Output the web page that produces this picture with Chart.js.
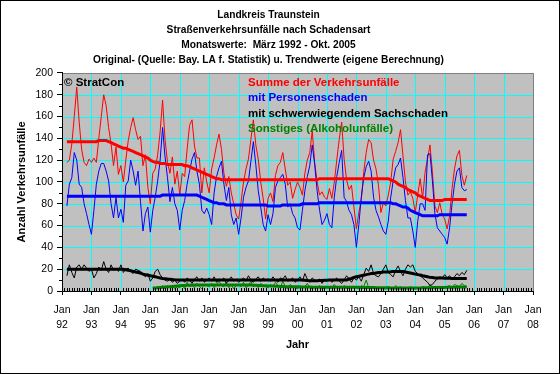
<!DOCTYPE html>
<html lang="de">
<head>
  <meta charset="UTF-8">
  <title>Landkreis Traunstein – Straßenverkehrsunfälle nach Schadensart</title>
  <script src="https://cdn.jsdelivr.net/npm/chart.js"></script>
  <style>
    html, body {
      margin: 0;
      padding: 0;
      background: #fff;
    }

    .chart-box {
      position: relative;
      width: 560px;
      height: 374px;
    }
  </style>
</head>
<body>

<div class="chart-box">
  <canvas id="unfallChart"></canvas>
</div>

<script>
// Monatswerte ab März 1992 (Monat 2 = März 1992, Monat 0 = Jan 1992)
const firstMonth = 2;
// Sonstiges erst ab Feb. 1995
const greenFirstMonth = 37;

const yearLabels = ['92', '93', '94', '95', '96', '97', '98', '99', '00',
                    '01', '02', '03', '04', '05', '06', '07', '08'];

// Summe der Verkehrsunfälle
const summe = [
  118, 120, 135, 160, 187, 155, 130, 118, 115, 121,            // 1992
  118, 122, 118, 140, 160, 180, 170, 150, 135, 115, 132, 107,  // 1993
  115, 100, 120, 138, 150, 159, 148, 139, 142, 115, 125, 95,   // 1994
  80, 108, 112, 125, 146, 175, 139, 118, 108, 123, 98, 110,    // 1995
  88, 108, 105, 130, 152, 157, 133, 122, 122, 90, 113, 100,    // 1996
  90, 112, 122, 134, 144, 130, 108, 96, 105, 90, 80, 70,       // 1997
  66, 82, 100, 112, 121, 139, 157, 134, 121, 100, 85, 66,      // 1998
  85, 90, 82, 106, 115, 118, 127, 112, 97, 100, 85, 93,        // 1999
  100, 95, 88, 108, 120, 127, 147, 118, 100, 88, 91, 86,       // 2000
  84, 94, 85, 100, 120, 139, 155, 121, 102, 93, 97, 77,        // 2001
  57, 72, 84, 109, 127, 139, 136, 120, 112, 97, 72, 81,        // 2002
  78, 88, 100, 121, 128, 136, 148, 124, 100, 88, 91, 85,       // 2003
  72, 88, 103, 85, 109, 121, 134, 109, 78, 72, 81, 70,         // 2004
  66, 57, 69, 94, 112, 124, 129, 106, 97, 106                  // 2005
];

// mit Personenschaden
const personen = [
  78, 98, 104, 127, 120, 98, 95, 80, 71, 61,
  52, 74, 98, 110, 117, 117, 110, 101, 80, 67, 86, 67,
  75, 63, 97, 101, 120, 110, 97, 110, 82, 55, 71, 77,
  54, 74, 86, 101, 120, 150, 123, 104, 82, 95, 80, 74,
  56, 74, 83, 98, 110, 121, 127, 110, 98, 74, 71, 76,
  70, 61, 90, 105, 113, 119, 98, 83, 95, 70, 61, 67,
  52, 67, 86, 95, 101, 119, 137, 116, 92, 77, 61, 55,
  70, 61, 71, 95, 101, 104, 107, 98, 77, 80, 71, 67,
  58, 56, 74, 92, 105, 115, 134, 116, 92, 74, 61, 65,
  71, 61, 58, 86, 105, 118, 129, 86, 82, 74, 70, 61,
  40, 61, 86, 104, 114, 119, 110, 86, 74, 68, 61, 55,
  52, 64, 86, 101, 113, 116, 122, 104, 83, 67, 67, 55,
  40, 64, 80, 80, 74, 125, 126, 101, 71, 58, 55, 52,
  49, 43, 58, 80, 98, 110, 113, 95, 92, 93
];

// mit schwerwiegendem Sachschaden
const sachschaden = [
  14, 24, 17, 12, 22, 24, 20, 24, 21, 18,
  20, 12, 16, 22, 19, 27, 20, 17, 24, 19, 21, 18,
  24, 17, 20, 21, 18, 16, 20, 19, 18, 15, 13, 16,
  9, 12, 18, 20, 15, 12, 10, 9, 11, 8, 10, 7,
  9, 11, 8, 12, 10, 7, 11, 13, 9, 12, 8, 10,
  12, 9, 13, 8, 11, 10, 12, 7, 10, 13, 9, 11,
  8, 10, 12, 9, 14, 10, 8, 11, 13, 9, 12, 10,
  11, 9, 13, 10, 8, 12, 11, 14, 9, 10, 12, 8,
  10, 13, 9, 16, 11, 8, 12, 10, 9, 11, 7, 10,
  9, 11, 8, 10, 12, 9, 7, 10, 14, 11, 8, 12,
  10, 13, 9, 15, 21, 18, 24, 16, 14, 13, 16, 20,
  24, 17, 15, 13, 19, 23, 18, 14, 20, 24, 22, 24,
  18, 16, 14, 12, 10, 8, 5, 6, 9, 11, 13, 12,
  15, 12, 14, 11, 13, 16, 14, 17, 15, 19
];

// Sonstiges (Alkoholunfälle), ab Feb. 1995
const sonstiges = [
  3, 2, 4, 3, 5, 2, 4, 3, 5, 2, 4,
  3, 6, 2, 8, 4, 5, 3, 7, 4, 2, 6, 5,
  4, 7, 3, 6, 9, 5, 4, 8, 3, 6, 2, 5,
  6, 4, 8, 3, 5, 9, 4, 6, 3, 7, 5, 4,
  3, 6, 4, 8, 5, 3, 9, 4, 2, 6, 4, 3,
  2, 5, 3, 4, 7, 3, 2, 4, 3, 5, 2, 3,
  4, 2, 3, 6, 3, 4, 2, 5, 3, 2, 4, 3,
  3, 2, 5, 4, 10, 3, 2, 4, 3, 2, 3, 2,
  2, 4, 3, 2, 5, 3, 4, 2, 3, 2, 4, 3,
  2, 3, 2, 4, 3, 2, 6, 3, 2, 3, 2, 4,
  3, 4, 5, 3, 6, 5, 4, 7, 5, 4
];

// Trendwerte (eigene Berechnung)
const summeTrend = [
  137, 137, 137, 137, 137, 137, 137, 137, 137, 137,
  137, 137, 137, 138, 138, 138, 138, 137, 136, 135, 134, 133,
  132, 131, 131, 130, 129, 128, 127, 126, 125, 124, 123, 122,
  120, 119, 118, 118, 117, 117, 117, 116, 116, 116, 116, 116,
  116, 116, 115, 115, 114, 113, 112, 111, 110, 109, 108, 107,
  106, 105, 104, 103, 103, 102, 102, 102, 102, 102, 102, 102,
  102, 102, 102, 102, 102, 102, 102, 102, 102, 102, 102, 102,
  102, 102, 102, 102, 102, 102, 102, 102, 102, 102, 102, 102,
  102, 102, 102, 102, 102, 102, 102, 102, 102, 103, 103, 103,
  103, 103, 103, 103, 103, 103, 103, 103, 103, 103, 103, 103,
  103, 103, 103, 103, 103, 103, 103, 103, 103, 103, 103, 103,
  103, 103, 102, 101, 100, 98, 97, 96, 95, 93, 92, 91,
  90, 88, 87, 86, 85, 84, 83, 83, 83, 83, 83, 83,
  84, 84, 84, 84, 84, 84, 84, 84, 84, 84
];

const personenTrend = [
  87, 87, 87, 87, 87, 87, 87, 87, 87, 87,
  87, 87, 87, 87, 87, 87, 87, 87, 87, 87, 87, 87,
  87, 87, 87, 87, 87, 87, 87, 87, 87, 87, 87, 87,
  87, 87, 87, 87, 87, 88, 88, 88, 88, 88, 88, 88,
  88, 88, 88, 88, 88, 88, 88, 88, 87, 86, 85, 84,
  83, 82, 81, 81, 80, 80, 80, 79, 79, 79, 79, 79,
  79, 79, 79, 79, 79, 79, 79, 79, 79, 79, 79, 79,
  78, 78, 78, 78, 78, 78, 79, 79, 79, 79, 79, 79,
  79, 79, 80, 80, 80, 80, 80, 80, 80, 81, 81, 81,
  81, 81, 81, 81, 81, 81, 81, 81, 81, 81, 81, 81,
  81, 81, 81, 81, 81, 81, 81, 81, 81, 81, 81, 81,
  81, 81, 81, 80, 80, 79, 78, 77, 77, 76, 74, 73,
  72, 71, 70, 69, 69, 69, 69, 69, 69, 69, 70, 70,
  70, 70, 70, 70, 70, 70, 70, 70, 70, 70
];

const sachschadenTrend = [
  20, 20, 20, 20, 20, 20, 20, 20, 20, 20,
  20, 20, 20, 20, 20, 20, 20, 20, 20, 20, 20, 20,
  20, 20, 19.5, 19, 18.5, 18, 17.5, 17, 16.5, 15.5, 15, 14.5,
  14, 13.5, 13, 12.5, 12, 11.5, 11.3, 11, 10.8, 10.5, 10.3, 10.2,
  10, 10, 10, 10, 10, 10, 10, 10, 10, 10, 10, 10,
  10, 10, 10, 10, 10, 10, 10, 10, 10, 10, 10, 10,
  10, 10, 10, 10, 10, 10, 10, 10, 10, 10, 10, 10,
  10, 10, 10, 10, 10, 10, 10, 10, 10, 10, 10, 10,
  10, 10, 10, 9.8, 9.6, 9.5, 9.5, 9.5, 9.5, 9.6, 9.7, 9.8,
  9.9, 10, 10, 10, 10, 10, 10, 10, 10, 11, 11.5, 12.5,
  13, 13.5, 14, 14.5, 15, 15.5, 16, 16, 16.5, 17, 17, 17.5,
  17.5, 17.5, 17.6, 18, 18, 18, 18, 18, 17.5, 17, 16.5, 16,
  15.5, 15, 14.6, 14, 13.5, 13, 12.5, 12.3, 12, 12, 12, 12,
  11.8, 11.7, 11.6, 11.5, 11.5, 11.5, 11.5, 11.5, 11.5, 11.5
];

const sonstigesTrend = [
  2.7, 2.8, 3, 3.2, 3.4, 3.6, 3.8, 4, 4.2, 4.4, 4.6,
  4.8, 5, 5.1, 5.2, 5.3, 5.4, 5.5, 5.5, 5.5, 5.5, 5.5, 5.5,
  5.5, 5.5, 5.5, 5.5, 5.5, 5.5, 5.5, 5.5, 5.5, 5.5, 5.5, 5.5,
  5.5, 5.5, 5.5, 5.5, 5.5, 5.4, 5.3, 5.2, 5.1, 5, 4.9, 4.8,
  4.7, 4.6, 4.5, 4.4, 4.3, 4.2, 4.1, 4, 4, 3.9, 3.9, 3.8,
  3.8, 3.7, 3.7, 3.6, 3.6, 3.6, 3.5, 3.5, 3.5, 3.5, 3.5, 3.5,
  3.5, 3.5, 3.5, 3.5, 3.5, 3.5, 3.5, 3.5, 3.5, 3.5, 3.5, 3.5,
  3.4, 3.4, 3.3, 3.3, 3.2, 3.2, 3.1, 3.1, 3, 3, 3, 3,
  2.9, 2.9, 2.8, 2.8, 2.8, 2.8, 2.7, 2.7, 2.7, 2.7, 2.7, 2.7,
  2.7, 2.8, 2.8, 2.9, 2.9, 3, 3, 3.1, 3.1, 3.2, 3.2, 3.3,
  3.3, 3.4, 3.4, 3.5, 3.5, 3.5, 3.6, 3.6, 3.6, 3.6
];

const legendTexts = [
  { text: 'Summe der Verkehrsunfälle', color: '#ff0000' },
  { text: 'mit Personenschaden', color: '#0000ff' },
  { text: 'mit schwerwiegendem Sachschaden', color: '#000000' },
  { text: 'Sonstiges (Alkoholunfälle)', color: '#008000' }
];

// Monatsindex -> Punkt
function toPoints(values, start) {
  return values.map((v, i) => ({ x: start + i, y: v }));
}

Chart.defaults.font.family = '"Liberation Sans", Arial, sans-serif';
Chart.defaults.color = '#000';

const FONT = '"Liberation Sans", Arial, sans-serif';

// Hintergrund, Gitter, Rahmen, Nebenstriche, Beschriftung im Diagramm
const extras = {
  id: 'extras',
  beforeDraw(chart) {
    const { ctx, chartArea: a } = chart;
    ctx.save();
    ctx.fillStyle = '#ffffff';
    ctx.fillRect(0, 0, chart.width, chart.height);
    ctx.fillStyle = '#c0c0c0';
    ctx.fillRect(a.left, a.top, a.right - a.left, a.bottom - a.top);
    ctx.restore();
  },
  beforeDatasetsDraw(chart) {
    const { ctx, chartArea: a, scales } = chart;
    ctx.save();
    ctx.strokeStyle = '#00ffff';
    ctx.lineWidth = 1;
    ctx.beginPath();
    scales.x.ticks.forEach((t) => {
      const x = Math.round(scales.x.getPixelForValue(t.value)) + 0.5;
      ctx.moveTo(x, a.top);
      ctx.lineTo(x, a.bottom);
    });
    scales.y.ticks.forEach((t) => {
      const y = Math.round(scales.y.getPixelForValue(t.value)) + 0.5;
      ctx.moveTo(a.left, y);
      ctx.lineTo(a.right, y);
    });
    ctx.stroke();
    ctx.restore();
  },
  afterDatasetsDraw(chart) {
    const { ctx, chartArea: a, scales } = chart;
    ctx.save();

    // Rahmen oben / rechts
    ctx.strokeStyle = '#808080';
    ctx.lineWidth = 1;
    ctx.beginPath();
    ctx.moveTo(Math.round(a.left) + 0.5, Math.round(a.top) + 0.5);
    ctx.lineTo(Math.round(a.right) + 0.5, Math.round(a.top) + 0.5);
    ctx.lineTo(Math.round(a.right) + 0.5, Math.round(a.bottom));
    ctx.stroke();

    // Achsen links / unten
    ctx.strokeStyle = '#000';
    ctx.beginPath();
    ctx.moveTo(Math.round(a.left) + 0.5, Math.round(a.top));
    ctx.lineTo(Math.round(a.left) + 0.5, Math.round(a.bottom) + 0.5);
    ctx.lineTo(Math.round(a.right) + 1, Math.round(a.bottom) + 0.5);
    ctx.stroke();

    // Nebenstriche
    ctx.beginPath();
    for (let m = 1; m < 192; m++) {
      if (m % 12 === 0) continue;
      const x = Math.round(scales.x.getPixelForValue(m)) + 0.5;
      ctx.moveTo(x, a.bottom);
      ctx.lineTo(x, a.bottom - 3);
    }
    for (let v = 10; v < 200; v += 20) {
      const y = Math.round(scales.y.getPixelForValue(v)) + 0.5;
      ctx.moveTo(a.left - 3, y);
      ctx.lineTo(a.left, y);
    }
    ctx.stroke();

    // Legende als farbiger Text
    ctx.font = 'bold 11.5px ' + FONT;
    ctx.textBaseline = 'middle';
    ctx.textAlign = 'left';
    legendTexts.forEach((item, i) => {
      ctx.fillStyle = item.color;
      ctx.fillText(item.text, 248, 83 + i * 15.3);
    });

    ctx.fillStyle = '#000';
    ctx.fillText('© StratCon', 64, 83);

    // äußerer Rahmen
    ctx.strokeStyle = '#000';
    ctx.strokeRect(0.5, 0.5, chart.width - 1, chart.height - 1);
    ctx.restore();
  }
};

const ctx = document.getElementById('unfallChart').getContext('2d');

new Chart(ctx, {
  type: 'line',
  data: {
    datasets: [
      { data: toPoints(summeTrend, firstMonth), borderColor: '#ff0000', borderWidth: 3 },
      { data: toPoints(personenTrend, firstMonth), borderColor: '#0000ff', borderWidth: 3 },
      { data: toPoints(sachschadenTrend, firstMonth), borderColor: '#000000', borderWidth: 3 },
      { data: toPoints(sonstigesTrend, greenFirstMonth), borderColor: '#008000', borderWidth: 3 },
      { data: toPoints(personen, firstMonth), borderColor: '#0000ff', borderWidth: 1 },
      { data: toPoints(summe, firstMonth), borderColor: '#ff0000', borderWidth: 1 },
      { data: toPoints(sachschaden, firstMonth), borderColor: '#000000', borderWidth: 1 },
      { data: toPoints(sonstiges, greenFirstMonth), borderColor: '#008000', borderWidth: 1 }
    ]
  },
  options: {
    responsive: true,
    maintainAspectRatio: false,
    devicePixelRatio: 1,
    animation: false,
    elements: {
      point: { radius: 0 },
      line: { tension: 0, fill: false }
    },
    layout: {
      padding: { left: 4, right: 27, top: 0, bottom: 0 }
    },
    plugins: {
      legend: { display: false },
      tooltip: { enabled: false },
      title: {
        display: true,
        text: [
          'Landkreis Traunstein',
          'Straßenverkehrsunfälle nach Schadensart',
          'Monatswerte:  März 1992 - Okt. 2005',
          'Original- (Quelle: Bay. LA f. Statistik) u. Trendwerte (eigene Berechnung)'
        ],
        color: '#000',
        font: { size: 10.2, weight: 'bold', lineHeight: 1.47 },
        padding: { top: 8, bottom: 5 }
      }
    },
    scales: {
      x: {
        type: 'linear',
        min: 0,
        max: 192,
        ticks: {
          stepSize: 12,
          autoSkip: false,
          maxRotation: 0,
          padding: 7,
          color: '#000',
          font: { size: 10.5, lineHeight: 1.45 },
          callback: (v) => (v % 12 === 0 ? ['Jan', yearLabels[v / 12]] : '')
        },
        grid: { drawOnChartArea: false, tickColor: '#000', tickLength: 4 },
        border: { color: '#000' },
        title: {
          display: true,
          text: 'Jahr',
          color: '#000',
          font: { size: 11, weight: 'bold' },
          padding: { top: 0, bottom: 22 }
        },
        afterFit: (scale) => { scale.height = 83; }
      },
      y: {
        min: 0,
        max: 200,
        ticks: {
          stepSize: 20,
          padding: 4,
          color: '#000',
          font: { size: 10.5 }
        },
        grid: { drawOnChartArea: false, tickColor: '#000', tickLength: 5 },
        border: { color: '#000' },
        title: {
          display: true,
          text: 'Anzahl Verkehrsunfälle',
          color: '#000',
          font: { size: 11, weight: 'bold' },
          padding: { top: 11, bottom: 0 }
        },
        afterFit: (scale) => { scale.width = 58; }
      }
    }
  },
  plugins: [extras]
});
</script>

</body>
</html>
